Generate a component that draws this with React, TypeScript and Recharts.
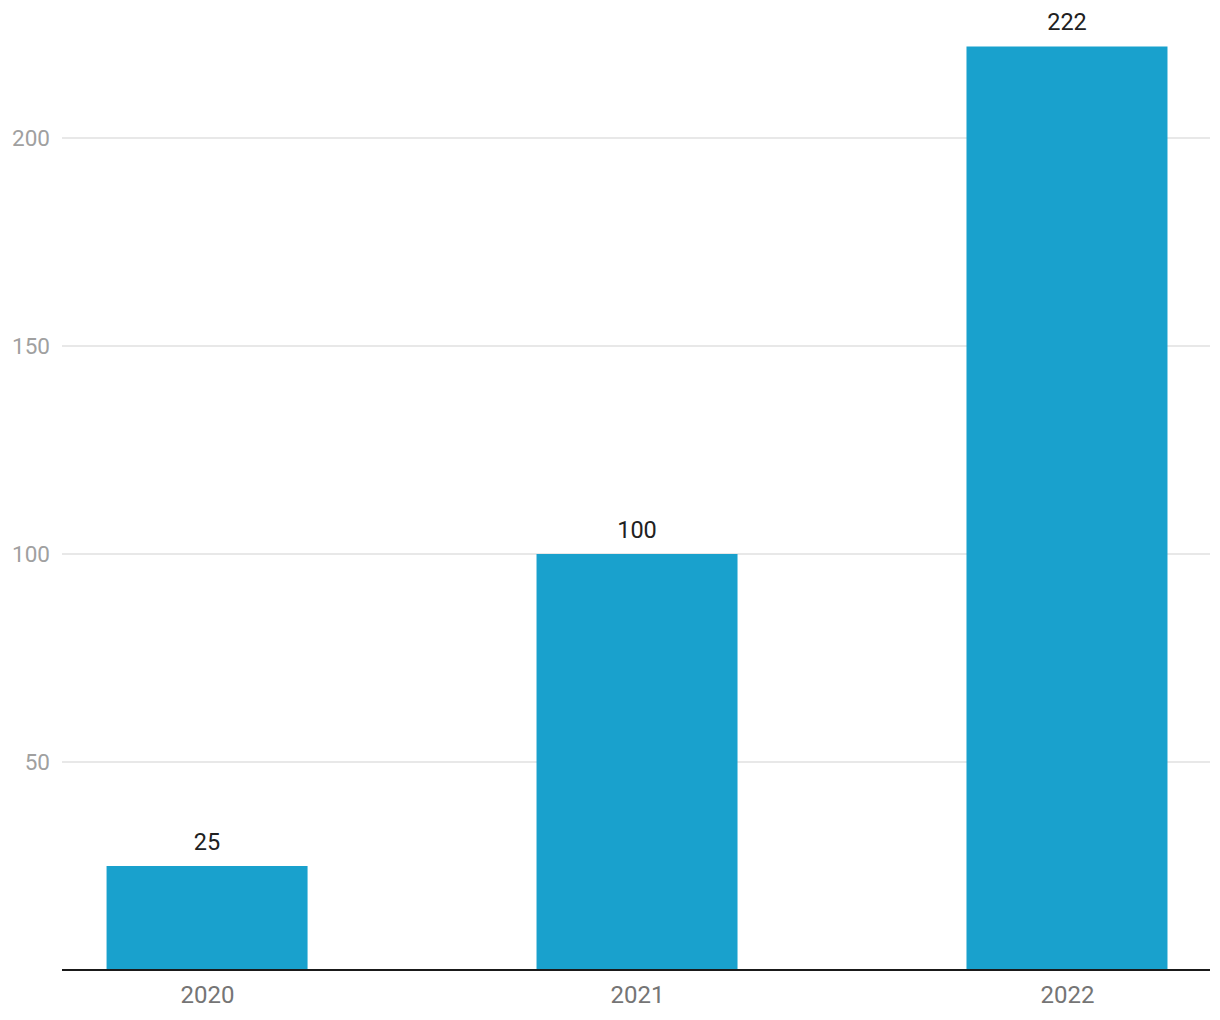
import React from 'react';
import { BarChart, Bar, XAxis, YAxis, CartesianGrid, LabelList } from 'recharts';

const years = [2020, 2021, 2022];
const values = [25, 100, 222];
const yTicks = [50, 100, 150, 200];

const data = years.map((y, i) => ({ year: y, value: values[i] }));

export default function App() {
  return (
    <div style={{ position: 'absolute', left: 0, top: 0, background: '#fff' }}>
      <BarChart
        width={1220}
        height={1020}
        data={data}
        margin={{ top: 34, right: 10, bottom: 0, left: 0 }}
        style={{ fontFamily: 'Roboto, sans-serif' }}
      >
        <CartesianGrid vertical={false} stroke="#e0e0e0" strokeWidth={1.5} horizontalValues={yTicks} />
        <XAxis
          dataKey="year"
          type="number"
          domain={[2019.6615, 2022.3315]}
          ticks={years}
          allowDataOverflow
          height={50}
          tickLine={false}
          tickSize={0}
          tickMargin={16}
          axisLine={{ stroke: '#1a1a1a', strokeWidth: 2 }}
          tick={{ fill: '#757575', fontSize: 24 }}
        />
        <YAxis
          domain={[0, 225]}
          ticks={yTicks}
          width={62}
          axisLine={false}
          tickLine={false}
          tickSize={0}
          tickMargin={12}
          tick={{ fill: '#a0a0a0', fontSize: 22.5 }}
        />
        <Bar dataKey="value" fill="#19a1cd" barSize={201} isAnimationActive={false}>
          <LabelList dataKey="value" position="top" offset={16} fill="#212121" fontSize={23.5} />
        </Bar>
      </BarChart>
    </div>
  );
}
